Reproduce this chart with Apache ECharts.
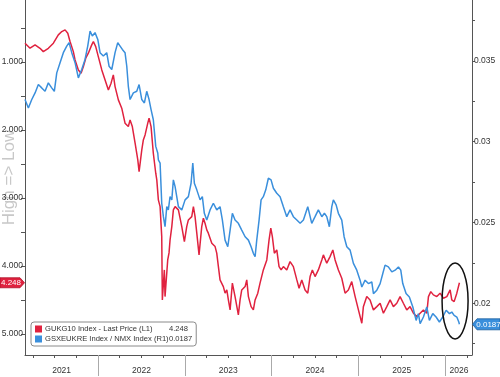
<!DOCTYPE html>
<html>
<head>
<meta charset="utf-8">
<script src="https://cdn.jsdelivr.net/npm/echarts@6/dist/echarts.min.js"></script>
<style>html,body{margin:0;padding:0;background:#fff}#c{width:500px;height:377px}</style>
</head>
<body>
<div id="c"></div>
<script>
// dates are decimal years
const redName = 'GUKG10 Index - Last Price (L1)';
const blueName = 'GSXEUKRE Index / NMX Index (R1)';
const redLast = '4.248';
const blueLast = '0.0187';
const axisTitle = 'High => Low';
const redSeries = [[2021.158,0.725],[2021.216,0.799],[2021.274,0.75],[2021.331,0.80],[2021.369,0.849],[2021.427,0.80],[2021.485,0.725],[2021.542,0.603],[2021.582,0.554],[2021.620,0.529],[2021.651,0.578],[2021.677,0.701],[2021.715,0.849],[2021.735,0.971],[2021.773,1.118],[2021.804,1.166],[2021.831,1.069],[2021.858,0.946],[2021.888,0.872],[2021.927,0.75],[2021.946,0.701],[2021.973,0.775],[2022.003,0.922],[2022.043,1.118],[2022.081,1.265],[2022.119,1.412],[2022.150,1.313],[2022.176,1.191],[2022.196,1.363],[2022.234,1.559],[2022.273,1.681],[2022.311,1.901],[2022.349,1.951],[2022.369,1.853],[2022.395,1.951],[2022.427,2.196],[2022.458,2.441],[2022.473,2.613],[2022.504,2.294],[2022.522,2.147],[2022.542,2.074],[2022.573,1.901],[2022.588,1.828],[2022.611,1.951],[2022.637,2.343],[2022.665,2.637],[2022.677,2.735],[2022.695,3.029],[2022.715,3.128],[2022.734,3.569],[2022.741,4.50],[2022.764,4.059],[2022.772,4.451],[2022.803,3.912],[2022.818,3.809],[2022.830,3.618],[2022.850,3.422],[2022.868,3.176],[2022.888,3.128],[2022.926,3.176],[2022.965,3.422],[2022.995,3.643],[2023.022,3.422],[2023.041,3.324],[2023.080,3.275],[2023.099,3.128],[2023.118,3.275],[2023.138,3.519],[2023.164,3.838],[2023.195,3.422],[2023.214,3.299],[2023.233,3.372],[2023.253,3.471],[2023.271,3.519],[2023.311,3.666],[2023.349,3.716],[2023.368,3.813],[2023.387,4.010],[2023.406,4.206],[2023.444,4.304],[2023.464,4.401],[2023.484,4.353],[2023.502,4.50],[2023.522,4.647],[2023.548,4.254],[2023.579,4.451],[2023.617,4.721],[2023.637,4.50],[2023.656,4.353],[2023.695,4.304],[2023.714,4.206],[2023.733,4.451],[2023.764,4.599],[2023.790,4.647],[2023.810,4.50],[2023.841,4.401],[2023.867,4.254],[2023.905,4.059],[2023.945,3.912],[2023.971,3.618],[2023.991,3.446],[2024.009,3.569],[2024.032,3.813],[2024.060,3.765],[2024.086,4.010],[2024.110,4.059],[2024.136,4.010],[2024.175,4.059],[2024.213,3.937],[2024.251,4.010],[2024.291,4.206],[2024.317,4.328],[2024.348,4.206],[2024.386,4.353],[2024.417,4.401],[2024.444,4.157],[2024.470,4.059],[2024.501,4.157],[2024.539,4.059],[2024.579,3.912],[2024.597,3.838],[2024.636,3.960],[2024.674,3.863],[2024.706,3.765],[2024.732,3.912],[2024.770,4.059],[2024.809,4.181],[2024.847,4.401],[2024.885,4.353],[2024.924,4.231],[2024.963,4.451],[2025.001,4.647],[2025.040,4.843],[2025.058,4.599],[2025.097,4.451],[2025.135,4.50],[2025.174,4.647],[2025.213,4.599],[2025.251,4.549],[2025.289,4.696],[2025.328,4.599],[2025.366,4.50],[2025.404,4.599],[2025.443,4.549],[2025.481,4.451],[2025.519,4.549],[2025.558,4.647],[2025.596,4.599],[2025.635,4.696],[2025.674,4.746],[2025.712,4.696],[2025.750,4.647],[2025.789,4.696],[2025.808,4.451],[2025.835,4.378],[2025.865,4.426],[2025.904,4.451],[2025.942,4.401],[2025.980,4.475],[2026.020,4.451],[2026.058,4.353],[2026.077,4.50],[2026.104,4.525],[2026.135,4.401],[2026.165,4.248]];
const blueSeries = [[2021.158,0.03261],[2021.197,0.03209],[2021.236,0.03261],[2021.274,0.03302],[2021.312,0.03354],[2021.351,0.03333],[2021.389,0.03312],[2021.427,0.03364],[2021.466,0.03333],[2021.496,0.03312],[2021.524,0.03426],[2021.562,0.03489],[2021.600,0.03551],[2021.639,0.03592],[2021.666,0.03613],[2021.697,0.03551],[2021.735,0.03489],[2021.773,0.03395],[2021.812,0.03447],[2021.850,0.03509],[2021.881,0.03592],[2021.908,0.03685],[2021.934,0.03654],[2021.965,0.03675],[2021.997,0.03633],[2022.023,0.03551],[2022.061,0.03530],[2022.100,0.03551],[2022.127,0.03467],[2022.158,0.03447],[2022.196,0.03551],[2022.227,0.03613],[2022.254,0.03592],[2022.280,0.03571],[2022.311,0.03551],[2022.331,0.03467],[2022.349,0.03343],[2022.369,0.03261],[2022.407,0.03302],[2022.446,0.03312],[2022.473,0.03354],[2022.504,0.03261],[2022.534,0.03240],[2022.561,0.03312],[2022.588,0.03261],[2022.611,0.03199],[2022.637,0.03136],[2022.665,0.02971],[2022.688,0.02930],[2022.695,0.02888],[2022.715,0.02868],[2022.734,0.02619],[2022.753,0.02536],[2022.772,0.02474],[2022.792,0.02598],[2022.810,0.02578],[2022.830,0.02660],[2022.850,0.02640],[2022.868,0.02764],[2022.888,0.02722],[2022.926,0.02598],[2022.965,0.02578],[2023.003,0.02640],[2023.041,0.02660],[2023.072,0.02743],[2023.092,0.02868],[2023.110,0.02743],[2023.138,0.02702],[2023.176,0.02640],[2023.202,0.02660],[2023.225,0.02557],[2023.253,0.02515],[2023.291,0.02578],[2023.329,0.02619],[2023.368,0.02578],[2023.406,0.02598],[2023.433,0.02515],[2023.464,0.02391],[2023.495,0.02350],[2023.522,0.02453],[2023.548,0.02557],[2023.579,0.02515],[2023.617,0.02495],[2023.656,0.02453],[2023.695,0.02412],[2023.733,0.02391],[2023.764,0.02350],[2023.790,0.02309],[2023.810,0.02288],[2023.829,0.02391],[2023.856,0.02515],[2023.879,0.02640],[2023.905,0.02660],[2023.933,0.02702],[2023.963,0.02774],[2023.994,0.02764],[2024.021,0.02712],[2024.060,0.02681],[2024.098,0.02660],[2024.136,0.02598],[2024.175,0.02536],[2024.213,0.02578],[2024.251,0.02536],[2024.291,0.02515],[2024.329,0.02495],[2024.367,0.02515],[2024.417,0.02598],[2024.463,0.02495],[2024.501,0.02536],[2024.539,0.02578],[2024.579,0.02536],[2024.609,0.02557],[2024.636,0.02536],[2024.666,0.02474],[2024.694,0.02598],[2024.712,0.02640],[2024.744,0.02609],[2024.770,0.02557],[2024.809,0.02515],[2024.836,0.02412],[2024.867,0.02350],[2024.905,0.02329],[2024.943,0.02247],[2024.982,0.02205],[2025.020,0.02143],[2025.040,0.02101],[2025.078,0.02143],[2025.116,0.02122],[2025.155,0.02132],[2025.174,0.02060],[2025.213,0.02081],[2025.251,0.02122],[2025.282,0.02184],[2025.308,0.02236],[2025.346,0.02225],[2025.386,0.02194],[2025.424,0.02205],[2025.462,0.02225],[2025.489,0.02205],[2025.512,0.02122],[2025.550,0.02060],[2025.588,0.02039],[2025.628,0.01977],[2025.666,0.01894],[2025.692,0.01936],[2025.712,0.01874],[2025.750,0.01915],[2025.789,0.01977],[2025.819,0.01894],[2025.858,0.01936],[2025.896,0.01915],[2025.934,0.01884],[2025.973,0.01915],[2026.012,0.01957],[2026.050,0.01936],[2026.077,0.01946],[2026.104,0.01925],[2026.135,0.01915],[2026.158,0.01884],[2026.165,0.0187]];
const yearTicks = [2022, 2023, 2024, 2025, 2026];
const quarterTicks = [2021.25,2021.5,2021.75,2022.25,2022.5,2022.75,2023.25,2023.5,2023.75,2024.25,2024.5,2024.75,2025.25,2025.5,2025.75,2026.25];
const yearLabels = [['2021',2021.58],['2022',2022.5],['2023',2023.5],['2024',2024.5],['2025',2025.5],['2026',2026.16]];
const leftLabels = [1,2,3,4,5];
const leftTicks = [0.5,1,1.5,2,2.5,3,3.5,4,4.5,5];
const rightLabels = [0.02,0.025,0.03,0.035];
const rightTicks = [0.0175,0.02,0.0225,0.025,0.0275,0.03,0.0325,0.035,0.0375];

const RED = '#e0223f', BLUE = '#3a8fdc';
const FONT = 'Liberation Sans';
const TXT = '#333';
const chart = echarts.init(document.getElementById('c'), null, {renderer:'canvas'});
const xMin = 2021.158, xMax = 2026.31;
const labelMap = {};
yearLabels.forEach(([t,v]) => labelMap[v.toFixed(3)] = t);
const baseX = {type:'value', min:xMin, max:xMax, position:'bottom', splitLine:{show:false}};
chart.setOption({
  animation:false,
  grid:{left:25, right:28, top:0, bottom:22, containLabel:false, outerBoundsMode:'none'},
  xAxis:[
    Object.assign({}, baseX, {
      axisLine:{show:true, lineStyle:{color:'#555', width:1}},
      axisTick:{show:true, customValues:yearTicks, length:21, lineStyle:{color:'#aaa', width:1}},
      axisLabel:{show:true, customValues:yearLabels.map(d=>d[1]), formatter:v=>labelMap[v.toFixed(3)]||'', color:TXT, fontSize:8.5, fontFamily:FONT, margin:11}
    }),
    Object.assign({}, baseX, {
      axisLine:{show:false},
      axisTick:{show:true, customValues:quarterTicks, length:3, lineStyle:{color:'#555'}},
      axisLabel:{show:false}
    })
  ],
  yAxis:[
    {type:'value', inverse:true, min:0.09, max:5.31, position:'left', splitLine:{show:false},
     axisLine:{show:true, lineStyle:{color:'#555'}},
     axisTick:{show:true, customValues:leftTicks, length:4, lineStyle:{color:'#555'}},
     axisLabel:{customValues:leftLabels, formatter:v=>v.toFixed(3), color:TXT, fontSize:8.5, fontFamily:FONT, margin:2},
     name:axisTitle, nameLocation:'middle', nameRotate:90, nameGap:7, nameMoveOverlap:false,
     nameTextStyle:{color:'#c8c8c8', fontSize:17, fontFamily:FONT}},
    {type:'value', min:0.0168, max:0.03877, position:'right', splitLine:{show:false},
     axisLine:{show:true, lineStyle:{color:'#555'}},
     axisTick:{show:true, customValues:rightTicks, length:3, lineStyle:{color:'#555'}},
     axisLabel:{customValues:rightLabels, formatter:v=>String(+v.toFixed(4)), color:TXT, fontSize:8.5, fontFamily:FONT, margin:2}}
  ],
  legend:{
    data:[redName, blueName], orient:'vertical', left:31, top:322, selectedMode:false,
    icon:'rect', itemWidth:7, itemHeight:7, itemGap:2,
    backgroundColor:'#fff', borderColor:'#8a8a8a', borderWidth:1, borderRadius:3, padding:[3,4,3,4],
    formatter:n => n===redName ? `{a|${n}}{b|${redLast}}` : `{a|${n}}{b|${blueLast}}`,
    textStyle:{fontFamily:FONT, fontSize:7.6, color:TXT, padding:[0,0,0,-2],
      rich:{a:{width:124, fontFamily:FONT, fontSize:7.6, color:TXT}, b:{fontFamily:FONT, fontSize:7.6, color:TXT}}}
  },
  series:[
    {name:redName, type:'line', xAxisIndex:0, yAxisIndex:0, data:redSeries, showSymbol:false, symbol:'none',
     lineStyle:{color:RED, width:1.5}, itemStyle:{color:RED}},
    {name:blueName, type:'line', xAxisIndex:0, yAxisIndex:1, data:blueSeries, showSymbol:false, symbol:'none',
     lineStyle:{color:BLUE, width:1.5}, itemStyle:{color:BLUE}}
  ]
});

const lastRed = redSeries[redSeries.length-1];
const lastBlue = blueSeries[blueSeries.length-1];
const yR = chart.convertToPixel({yAxisIndex:0}, lastRed[1]);
const yB = chart.convertToPixel({yAxisIndex:1}, lastBlue[1]);
const ell = chart.convertToPixel({xAxisIndex:0, yAxisIndex:0}, [2026.115, 4.515]);
chart.setOption({graphic:[
  {type:'polygon', shape:{points:[[0,yR-5],[20,yR-5],[24.5,yR],[20,yR+5],[0,yR+5]]}, style:{fill:RED, stroke:'#b01028', lineWidth:0.8}, z:100},
  {type:'text', x:11, y:yR, style:{text:redLast, fill:'#fff', font:'8px "Liberation Sans"', textAlign:'center', textVerticalAlign:'middle'}, z:101},
  {type:'polygon', shape:{points:[[472.5,yB],[477,yB-5.5],[500,yB-5.5],[500,yB+5.5],[477,yB+5.5]]}, style:{fill:BLUE, stroke:'#1d5f9e', lineWidth:0.8}, z:100},
  {type:'text', x:488.5, y:yB, style:{text:blueLast, fill:'#fff', font:'8px "Liberation Sans"', textAlign:'center', textVerticalAlign:'middle'}, z:101},
  {type:'ellipse', shape:{cx:ell[0], cy:ell[1], rx:13, ry:38}, style:{fill:'none', stroke:'#111', lineWidth:1.5}, z:90}
]});
</script>
</body>
</html>
